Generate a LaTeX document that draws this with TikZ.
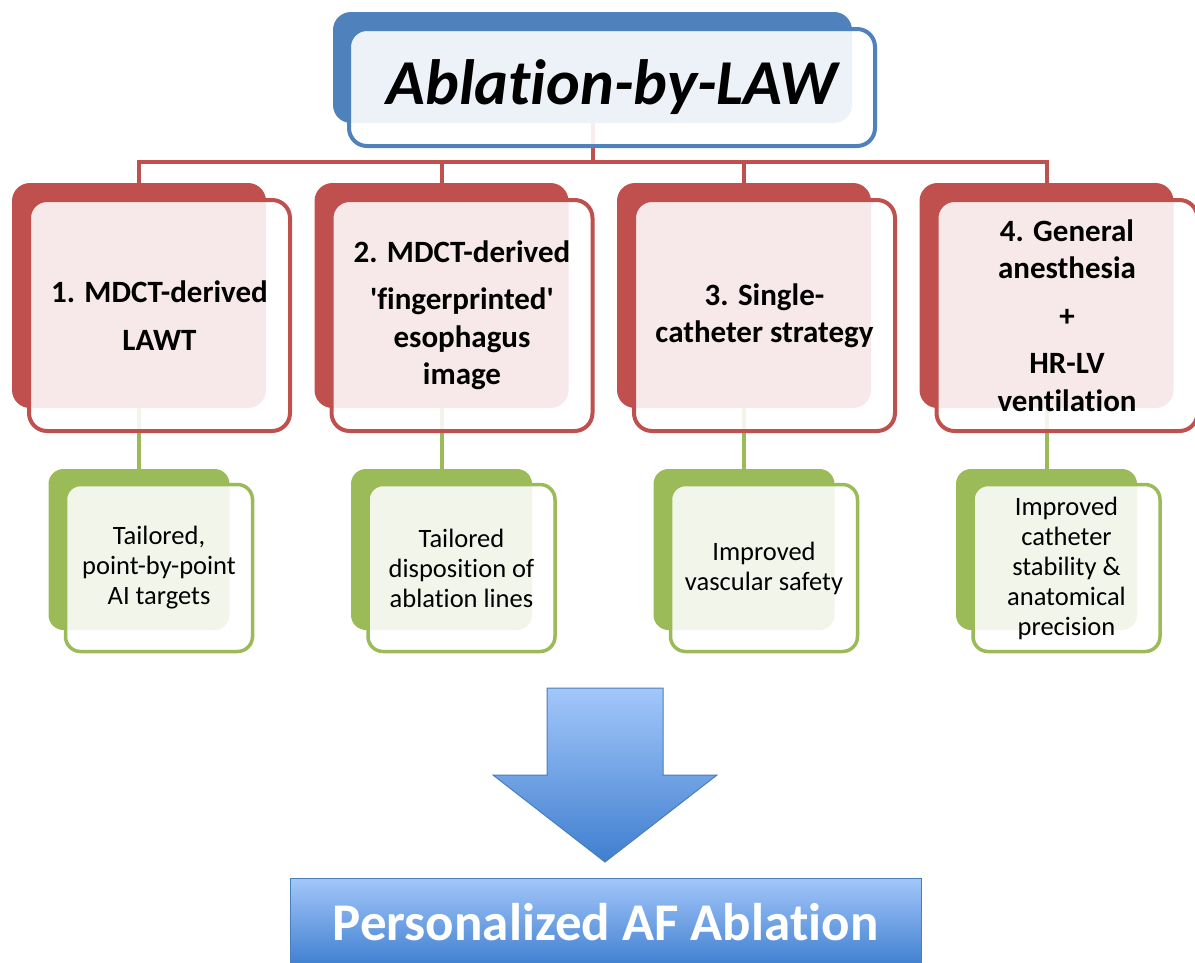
\documentclass[tikz,border=0pt]{standalone}
\usepackage{fontspec}
\setmainfont[Ligatures=NoCommon]{Carlito}
\usetikzlibrary{backgrounds,calc}
\definecolor{redc}{HTML}{C0504D}
\definecolor{grnc}{HTML}{9BBB59}
\definecolor{bluc}{HTML}{4F81BD}
\definecolor{arrtop}{HTML}{A3C7FA}
\definecolor{arrbot}{HTML}{3F7FD0}
\definecolor{arredge}{HTML}{4A7EBB}
\begin{document}
\begin{tikzpicture}[x=1pt,y=-1pt,
  backbox/.style={rectangle, rounded corners=18pt, inner sep=0pt, fill=#1},
  frontbox/.style={rectangle, rounded corners=18pt, inner sep=0pt, draw=#1, fill=white, fill opacity=0.88, text opacity=1, line width=4pt, align=center},
  redback/.style={backbox=redc, minimum width=254pt, minimum height=225pt},
  redfront/.style={frontbox=redc, minimum width=261pt, minimum height=231pt, font=\fontsize{31}{37.5}\selectfont\bfseries},
  grnback/.style={backbox=grnc, rounded corners=15pt, minimum width=181pt, minimum height=161pt},
  grnfront/.style={frontbox=grnc, rounded corners=15pt, line width=3.5pt, minimum width=187pt, minimum height=167pt, font=\fontsize{26.5}{30}\selectfont},
  redline/.style={draw=redc, line width=4pt},
  grnline/.style={draw=grnc, line width=4pt},
]
\useasboundingbox (0,0) rectangle (1195,962);

% title
\node[backbox=bluc, minimum width=519pt, minimum height=111pt] (tb) at (592.5,67.5) {};
\node[frontbox=bluc, minimum width=526pt, minimum height=117pt, fill opacity=0.9,
  font=\fontsize{64}{70}\selectfont\bfseries\itshape] (tf) at (612,87.5) {Ablation-by-LAW};

% red boxes
\node[redback] (r1b) at (139,295.5) {};
\node[redfront] (r1f) at (159.5,315.5) {1. MDCT-derived\\[10pt]LAWT};
\node[redback] (r2b) at (441.5,295.5) {};
\node[redfront] (r2f) at (462,315.5) {2. MDCT-derived\\[9.5pt]\textquotesingle fingerprinted\textquotesingle\\esophagus\\image};
\node[redback] (r3b) at (744,295.5) {};
\node[redfront] (r3f) at (764.5,315.5) {3. Single-\\catheter strategy};
\node[redback] (r4b) at (1046.5,295.5) {};
\node[redfront] (r4f) at (1067,315.5) {4. General\\anesthesia\\[10pt]+\\[10pt]HR-LV\\ventilation};

% green boxes
\node[grnback] (g1b) at (139,549.5) {};
\node[grnfront] (g1f) at (159,568) {Tailored,\\point-by-point\\AI targets};
\node[grnback] (g2b) at (441.5,549.5) {};
\node[grnfront] (g2f) at (461.5,568) {Tailored\\disposition of\\ablation lines};
\node[grnback] (g3b) at (744,549.5) {};
\node[grnfront] (g3f) at (764,568) {Improved\\vascular safety};
\node[grnback] (g4b) at (1046.5,549.5) {};
\node[grnfront] (g4f) at (1066.5,568) {Improved\\catheter\\stability \&\\anatomical\\precision};

% connectors (behind the boxes)
\coordinate (bus) at (0,162);
\begin{scope}[on background layer]
  \fill[white] (0,0) rectangle (1195,962);
  \draw[redline] (tb.south) -- (tb.south |- bus) -| (r1b.north);
  \draw[redline] (tb.south |- bus) -| (r2b.north);
  \draw[redline] (tb.south |- bus) -| (r3b.north);
  \draw[redline] (tb.south |- bus) -| (r4b.north);
  \draw[grnline] (r1b.south) -- (g1b.north);
  \draw[grnline] (r2b.south) -- (g2b.north);
  \draw[grnline] (r3b.south) -- (g3b.north);
  \draw[grnline] (r4b.south) -- (g4b.north);
\end{scope}

% big arrow
\draw[arredge, line width=1pt, top color=arrtop, bottom color=arrbot, line join=miter]
  (547,688) -- (663,688) -- (663,775) -- (717,775) -- (605,862) -- (493,775) -- (547,775) -- cycle;

% result box
\node[rectangle, draw=arredge, line width=1pt, top color=arrtop, bottom color=arrbot,
  minimum width=631pt, minimum height=88pt, inner sep=0pt, text=white,
  font=\fontsize{53}{60}\selectfont\bfseries] (pb) at (605.5,922) {Personalized AF Ablation};
\end{tikzpicture}
\end{document}
